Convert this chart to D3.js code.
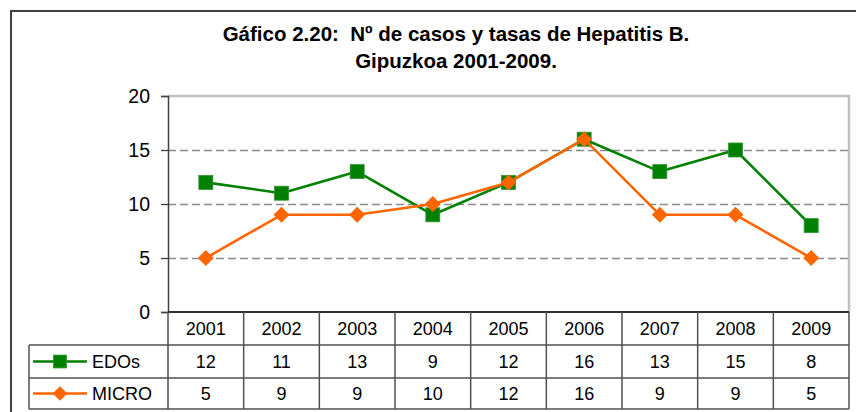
<!DOCTYPE html>
<html>
<head>
<meta charset="utf-8">
<script src="https://cdn.jsdelivr.net/npm/d3@7"></script>
<style>
  html, body { margin: 0; padding: 0; background: #fff; }
  svg { display: block; }
  text { font-family: "Liberation Sans", Arial, sans-serif; fill: #000; white-space: pre; }
</style>
</head>
<body>
<svg id="chart" width="856" height="412"></svg>
<script>
const titleLines = ["Gáfico 2.20:  Nº de casos y tasas de Hepatitis B.", "Gipuzkoa 2001-2009."];
const years = ["2001", "2002", "2003", "2004", "2005", "2006", "2007", "2008", "2009"];
const edos = [12, 11, 13, 9, 12, 16, 13, 15, 8];
const micro = [5, 9, 9, 10, 12, 16, 9, 9, 5];
const seriesNames = ["EDOs", "MICRO"];
const yTicks = [0, 5, 10, 15, 20];

const W = 856, H = 412;
const plot = { left: 168, right: 849, top: 96, bottom: 312 };
const rowLines = [312, 345, 378, 409];
const legendLeft = 29;
const colors = ["#008000", "#FF6600"];
const series = [edos, micro];

const svg = d3.select("#chart");
svg.append("rect").attr("width", W).attr("height", H).attr("fill", "#fff");

// outer frame
svg.append("rect")
  .attr("x", 11).attr("y", 11).attr("width", 880).attr("height", 440)
  .attr("fill", "none").attr("stroke", "#404040").attr("stroke-width", 2);

// title
svg.append("g").selectAll("text").data(titleLines).enter().append("text")
  .attr("x", 456).attr("y", (d, i) => 41 + i * 27)
  .attr("text-anchor", "middle")
  .attr("font-size", "20.5px").attr("font-weight", "bold")
  .text(d => d);

const x = d3.scaleBand().domain(years).range([plot.left, plot.right]);
const y = d3.scaleLinear().domain([0, 20]).range([plot.bottom, plot.top]);

// gridlines
svg.append("g").selectAll("line").data(yTicks.filter(v => v > 0 && v < 20)).enter().append("line")
  .attr("x1", plot.left).attr("x2", plot.right)
  .attr("y1", d => Math.round(y(d)) + 0.5).attr("y2", d => Math.round(y(d)) + 0.5)
  .attr("stroke", "#8a8a8a").attr("stroke-width", 1.3).attr("stroke-dasharray", "8,4");

// plot border (top/right gray)
svg.append("path")
  .attr("d", `M${plot.left},${y(20)}H${plot.right}V${plot.bottom}`)
  .attr("fill", "none").attr("stroke", "#c0c0c0").attr("stroke-width", 2.5);

// y axis
const yAxis = d3.axisLeft(y).tickValues(yTicks).tickSize(7).tickPadding(11);
const gy = svg.append("g").attr("transform", `translate(${plot.left},0)`).call(yAxis);
gy.select(".domain").attr("stroke", "#404040").attr("stroke-width", 1.5);
gy.selectAll(".tick line").attr("stroke", "#404040").attr("stroke-width", 1.3);
gy.selectAll(".tick text").attr("font-size", "19.5px")
  .attr("font-family", '"Liberation Sans", Arial, sans-serif').attr("fill", "#000");

// table grid
const tg = svg.append("g").attr("stroke", "#505050").attr("stroke-width", 1.5);
tg.append("line").attr("x1", plot.left).attr("x2", plot.right)
  .attr("y1", rowLines[0]).attr("y2", rowLines[0]).attr("stroke", "#303030").attr("stroke-width", 2);
rowLines.slice(1).forEach(ly => {
  tg.append("line").attr("x1", legendLeft).attr("x2", plot.right).attr("y1", ly).attr("y2", ly);
});
const colEdges = years.map(yr => x(yr)).concat([plot.right]);
colEdges.forEach(cx => {
  tg.append("line").attr("x1", cx).attr("x2", cx).attr("y1", rowLines[0]).attr("y2", rowLines[3]);
});
tg.append("line").attr("x1", legendLeft).attr("x2", legendLeft).attr("y1", rowLines[1]).attr("y2", rowLines[3]);

// header years
svg.append("g").selectAll("text").data(years).enter().append("text")
  .attr("x", d => x(d) + x.bandwidth() / 2)
  .attr("y", (rowLines[0] + rowLines[1]) / 2)
  .attr("dy", "0.36em").attr("text-anchor", "middle").attr("font-size", "18px")
  .text(d => d);

// data rows
series.forEach((vals, si) => {
  const cy = (rowLines[si + 1] + rowLines[si + 2]) / 2;
  svg.append("g").selectAll("text").data(vals).enter().append("text")
    .attr("x", (d, i) => x(years[i]) + x.bandwidth() / 2)
    .attr("y", cy).attr("dy", "0.36em").attr("text-anchor", "middle").attr("font-size", "18px")
    .text(d => d);
});

function marker(g, si, cx, cy, scale) {
  if (si === 0) {
    const s = 14 * scale;
    g.append("rect").attr("x", cx - s / 2).attr("y", cy - s / 2).attr("width", s).attr("height", s)
      .attr("fill", colors[0]).attr("stroke", "#2e962e").attr("stroke-width", 0.8);
  } else {
    const r = 8 * scale;
    g.append("path").attr("d", `M${cx},${cy - r}L${cx + r},${cy}L${cx},${cy + r}L${cx - r},${cy}Z`)
      .attr("fill", colors[1]);
  }
}

// legend keys
seriesNames.forEach((name, si) => {
  const cy = (rowLines[si + 1] + rowLines[si + 2]) / 2;
  const g = svg.append("g");
  g.append("line").attr("x1", 33).attr("x2", 87).attr("y1", cy).attr("y2", cy)
    .attr("stroke", colors[si]).attr("stroke-width", 2.5);
  marker(g, si, 60, cy, 0.92);
  g.append("text").attr("x", 92).attr("y", cy).attr("dy", "0.36em").attr("font-size", "18px").text(name);
});

// series lines + markers
const line = d3.line().x((d, i) => x(years[i]) + x.bandwidth() / 2).y(d => y(d));
series.forEach((vals, si) => {
  const g = svg.append("g");
  g.append("path").datum(vals).attr("d", line).attr("fill", "none")
    .attr("stroke", colors[si]).attr("stroke-width", 2.6).attr("stroke-linejoin", "round");
  vals.forEach((v, i) => marker(g, si, x(years[i]) + x.bandwidth() / 2, y(v), 1));
});
</script>
</body>
</html>
